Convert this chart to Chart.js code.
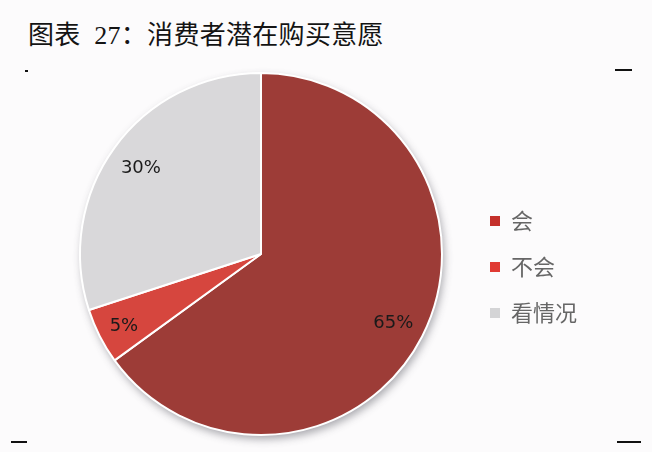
<!DOCTYPE html>
<html>
<head>
<meta charset="utf-8">
<script src="https://cdn.jsdelivr.net/npm/chart.js@4/dist/chart.umd.min.js"></script>
<style>
  html, body { margin: 0; padding: 0; background: #fcfbfc; }
  #wrap { position: relative; width: 652px; height: 452px; overflow: hidden; }
  #title {
    position: absolute; left: 28px; top: 14px;
    font-family: "Liberation Serif", "Noto Sans CJK SC", serif;
    font-size: 26px; color: #141414; letter-spacing: 0.3px; white-space: pre;
  }
  canvas { position: absolute; left: 0; top: 0; }
  .tick { position: absolute; height: 2px; background: #111; }
</style>
</head>
<body>
<div id="wrap">
  <div id="title">图表  27：消费者潜在购买意愿</div>
  <canvas id="pie" width="652" height="452"></canvas>
  <div class="tick" style="left:25px;top:70px;width:3px;"></div>
  <div class="tick" style="left:615px;top:69px;width:17px;"></div>
  <div class="tick" style="left:11px;top:441px;width:16px;"></div>
  <div class="tick" style="left:617px;top:441px;width:24px;"></div>
</div>
<script>
const categories = ['会', '不会', '看情况'];
const shares = [65, 5, 30];
const sliceColors = ['#9d3c37', '#d6463e', '#d9d8da'];
const legendColors = ['#c4302b', '#e03a33', '#d4d4d6'];

const shadowPlugin = {
  id: 'pieShadow',
  beforeDatasetsDraw(chart) {
    const ctx = chart.ctx;
    ctx.save();
    ctx.shadowColor = 'rgba(60, 60, 70, 0.45)';
    ctx.shadowBlur = 8;
    ctx.shadowOffsetX = 2;
    ctx.shadowOffsetY = 4;
    const arc = chart.getDatasetMeta(0).data[0];
    ctx.beginPath();
    ctx.arc(arc.x, arc.y, arc.outerRadius, 0, Math.PI * 2);
    ctx.fillStyle = '#fff';
    ctx.fill();
    ctx.restore();
  },
};

const labelPlugin = {
  id: 'sliceLabels',
  afterDatasetsDraw(chart) {
    const ctx = chart.ctx;
    const meta = chart.getDatasetMeta(0);
    ctx.save();
    ctx.font = '18px "DejaVu Sans", sans-serif';
    ctx.fillStyle = '#1a1a1a';
    ctx.textAlign = 'center';
    ctx.textBaseline = 'middle';
    meta.data.forEach((arc, i) => {
      const mid = (arc.startAngle + arc.endAngle) / 2;
      const r = arc.outerRadius * (i === 1 ? 0.85 : 0.82);
      ctx.fillText(shares[i] + '%', arc.x + Math.cos(mid) * r, arc.y + Math.sin(mid) * r + 2);
    });
    ctx.restore();
  },
};

new Chart(document.getElementById('pie'), {
  type: 'pie',
  data: {
    labels: categories,
    datasets: [{
      data: shares,
      backgroundColor: sliceColors,
      borderColor: '#ffffff',
      borderWidth: 2,
    }],
  },
  options: {
    responsive: false,
    animation: false,
    layout: { padding: { left: 56, right: 65, top: 72, bottom: 16 } },
    plugins: {
      tooltip: { enabled: false },
      legend: {
        position: 'right',
        title: {
          display: true,
          text: ' ',
          font: { size: 10, lineHeight: 1 },
          padding: 8,
        },
        labels: {
          boxWidth: 10,
          boxHeight: 10,
          padding: 24,
          color: '#111',
          font: { size: 22, family: '"Noto Sans CJK SC", sans-serif' },
          generateLabels(chart) {
            return categories.map((c, i) => ({
              text: c,
              fillStyle: legendColors[i],
              strokeStyle: legendColors[i],
              lineWidth: 0,
              index: i,
              hidden: false,
            }));
          },
        },
      },
    },
  },
  plugins: [shadowPlugin, labelPlugin],
});
</script>
</body>
</html>
